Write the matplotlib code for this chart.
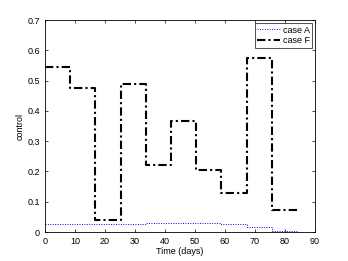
import numpy as np
import matplotlib
matplotlib.use('Agg')
import matplotlib.pyplot as plt

plt.rcParams['font.family'] = ['Liberation Sans', 'DejaVu Sans']

# step edges (days)
t_edges = [0, 8.4, 16.8, 25.2, 33.6, 42, 50.4, 58.8, 67.2, 75.6, 84]
case_f = [0.545, 0.475, 0.040, 0.490, 0.222, 0.367, 0.205, 0.130, 0.575, 0.072]
case_a = [0.028, 0.025, 0.027, 0.027, 0.029, 0.030, 0.029, 0.025, 0.015, 0.004]

fig = plt.figure(figsize=(3.48, 2.61), dpi=100)
ax = fig.add_axes([0.129, 0.111, 0.776, 0.812])

ya = case_a + [case_a[-1]]
yf = case_f + [case_f[-1]]
ax.plot(t_edges, ya, color='blue', linestyle=(0, (1, 1.5)), linewidth=0.7, drawstyle='steps-post', label='case A')
ax.plot(t_edges, yf, color='black', linestyle=(0, (4, 1.5, 1, 1.5)), linewidth=1.5, drawstyle='steps-post', label='case F')

ax.set_xlim(0, 90)
ax.set_ylim(0, 0.7)
ax.set_xticks(np.arange(0, 91, 10))
ax.set_yticks(np.arange(0, 0.71, 0.1))
ax.set_yticklabels(['0', '0.1', '0.2', '0.3', '0.4', '0.5', '0.6', '0.7'])
ax.tick_params(labelsize=6.5, direction='in', length=2, width=0.5, top=True, right=True)
ax.set_xlabel('Time (days)', fontsize=6.5, labelpad=1)
ax.set_ylabel('control', fontsize=6.5, labelpad=2)
for s in ax.spines.values():
    s.set_linewidth(0.6)

leg = ax.legend(loc='upper right', fontsize=6.5, fancybox=False, edgecolor='black',
                handlelength=2.5, borderpad=0.3, labelspacing=0.2, handletextpad=0.3,
                borderaxespad=0.3)
leg.get_frame().set_linewidth(0.6)

fig.savefig('out.png', dpi=100)
